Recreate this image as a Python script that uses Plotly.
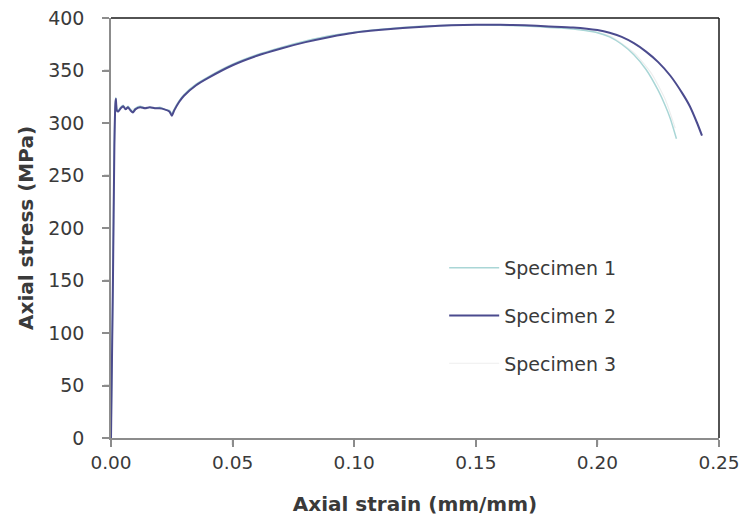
import plotly.graph_objects as go

# Axial strain (mm/mm) and axial stress (MPa) for each tensile specimen
strain_1 = [0, 0.0008, 0.0013, 0.0017, 0.0020, 0.0024, 0.003, 0.004, 0.005, 0.006, 0.007,
            0.008, 0.009, 0.010, 0.012, 0.014, 0.016, 0.018, 0.020, 0.022, 0.024, 0.025,
            0.026, 0.028, 0.030, 0.035, 0.040, 0.050, 0.060, 0.070, 0.080, 0.090, 0.100,
            0.110, 0.120, 0.130, 0.140, 0.150, 0.160, 0.170, 0.180, 0.185, 0.190, 0.195,
            0.200, 0.205, 0.210, 0.215, 0.220, 0.225, 0.228, 0.230, 0.2325]
stress_1 = [0, 150, 270, 316, 324, 313, 312, 315, 317, 313, 316,
            313, 311, 314, 316, 314, 315, 314, 315, 313, 312, 309,
            313, 321, 327, 337, 344, 356, 365, 372, 378, 383, 386.5,
            389, 391, 392.5, 393, 393.5, 393, 392.5, 391, 390.5, 389.5, 388,
            386, 382, 375, 365, 351, 331, 316, 304, 285]

strain_2 = [0, 0.0008, 0.0014, 0.0018, 0.0020, 0.0024, 0.003, 0.004, 0.005, 0.006, 0.007,
            0.008, 0.009, 0.010, 0.012, 0.014, 0.016, 0.018, 0.020, 0.022, 0.024, 0.025,
            0.026, 0.028, 0.030, 0.035, 0.040, 0.050, 0.060, 0.070, 0.080, 0.090, 0.100,
            0.110, 0.120, 0.130, 0.140, 0.150, 0.160, 0.170, 0.180, 0.190, 0.200, 0.205,
            0.210, 0.215, 0.220, 0.225, 0.230, 0.235, 0.238, 0.241, 0.243]
stress_2 = [0, 150, 280, 318, 323, 312, 311, 314, 316, 313, 315,
            312, 310, 313, 315, 314, 315, 314, 314, 313, 311, 307,
            312, 320, 326, 336, 343, 355, 364, 371, 377, 382, 386,
            388.5, 390.5, 392, 393, 393.5, 393.5, 393, 392, 391, 388.5, 386,
            382, 376, 368, 358, 345, 328, 316, 300, 288]

strain_3 = [0, 0.0008, 0.0014, 0.0018, 0.0021, 0.0025, 0.003, 0.005, 0.008, 0.010, 0.014,
            0.018, 0.022, 0.025, 0.027, 0.030, 0.040, 0.050, 0.070, 0.090, 0.110, 0.130,
            0.150, 0.170, 0.185, 0.195, 0.205, 0.215, 0.222, 0.228, 0.232]
stress_3 = [0, 145, 275, 315, 321, 314, 312, 316, 313, 314, 315,
            314, 313, 310, 318, 326, 344, 356, 372, 383, 389, 392.5,
            393.5, 393, 391, 388.5, 383, 367, 348, 322, 295]

series = [
    ("Specimen 3", strain_3, stress_3, "#eeeeee", 1.2, 3),
    ("Specimen 1", strain_1, stress_1, "#a9d6d6", 1.5, 1),
    ("Specimen 2", strain_2, stress_2, "#4b4b8e", 2.0, 2),
]

x_ticks = [0.00, 0.05, 0.10, 0.15, 0.20, 0.25]
y_ticks = [0, 50, 100, 150, 200, 250, 300, 350, 400]

FAMILY = "DejaVu Sans, sans-serif"
tick_font = dict(family=FAMILY, size=19, color="#3a3a3a")
x_tick_font = dict(family=FAMILY, size=18.5, color="#3a3a3a")
title_font = dict(family=FAMILY, size=20, color="#3a3a3a")
AXIS_GREY = "#8c8c8c"
TICK_LEN = 7

fig = go.Figure()
for name, xs, ys, color, width, rank in series:
    fig.add_trace(go.Scatter(
        x=xs, y=ys, mode="lines", name=name,
        line=dict(color=color, width=width, shape="spline", smoothing=0.6),
        legendrank=rank, legendgroup=name,
    ))

# Outward tick marks anchored to the axis values, sized in pixels
tick_shapes = []
for v in x_ticks:
    tick_shapes.append(dict(
        type="line", xref="x", yref="paper", ysizemode="pixel", yanchor=0,
        x0=v, x1=v, y0=0, y1=-TICK_LEN, layer="above",
        line=dict(color=AXIS_GREY, width=1.5),
    ))
for v in y_ticks:
    tick_shapes.append(dict(
        type="line", xref="paper", yref="y", xsizemode="pixel", xanchor=0,
        x0=0, x1=-TICK_LEN, y0=v, y1=v, layer="above",
        line=dict(color=AXIS_GREY, width=1.5),
    ))

border_shapes = [
    dict(type="line", xref="paper", yref="paper", x0=0, x1=1, y0=1, y1=1,
         line=dict(color="#1a1a1a", width=1.5)),
    dict(type="line", xref="paper", yref="paper", x0=1, x1=1, y0=0, y1=1,
         line=dict(color="#1a1a1a", width=1.5)),
]

fig.update_layout(
    width=740, height=518,
    margin=dict(l=111, r=21, t=18, b=80),
    paper_bgcolor="white", plot_bgcolor="white",
    font=tick_font,
    showlegend=True,
    legend=dict(
        x=0.548, y=0.45, xanchor="left", yanchor="top",
        bgcolor="rgba(0,0,0,0)", itemwidth=50, tracegroupgap=20,
        font=dict(family=FAMILY, size=19, color="#3a3a3a"),
    ),
    xaxis=dict(
        range=[0, 0.25], tickvals=x_ticks, ticktext=[f"{v:.2f}" for v in x_ticks],
        showgrid=False, zeroline=False, automargin=False,
        showline=True, linecolor=AXIS_GREY, linewidth=1.5,
        ticks="outside", ticklen=TICK_LEN, tickcolor=AXIS_GREY, tickwidth=1.5,
        tickfont=x_tick_font,
        title=dict(text="<b>Axial strain (mm/mm)</b>", font=title_font, standoff=25),
    ),
    yaxis=dict(
        range=[0, 400], tickvals=y_ticks,
        showgrid=False, zeroline=False, automargin=False,
        showline=True, linecolor=AXIS_GREY, linewidth=1.5,
        ticks="outside", ticklen=TICK_LEN, tickcolor=AXIS_GREY, tickwidth=1.5,
        tickfont=tick_font, ticklabelstandoff=14,
        title=dict(text="<b>Axial stress (MPa)</b>", font=title_font, standoff=9),
    ),
    shapes=border_shapes + tick_shapes,
)

fig.write_html("out.html")
